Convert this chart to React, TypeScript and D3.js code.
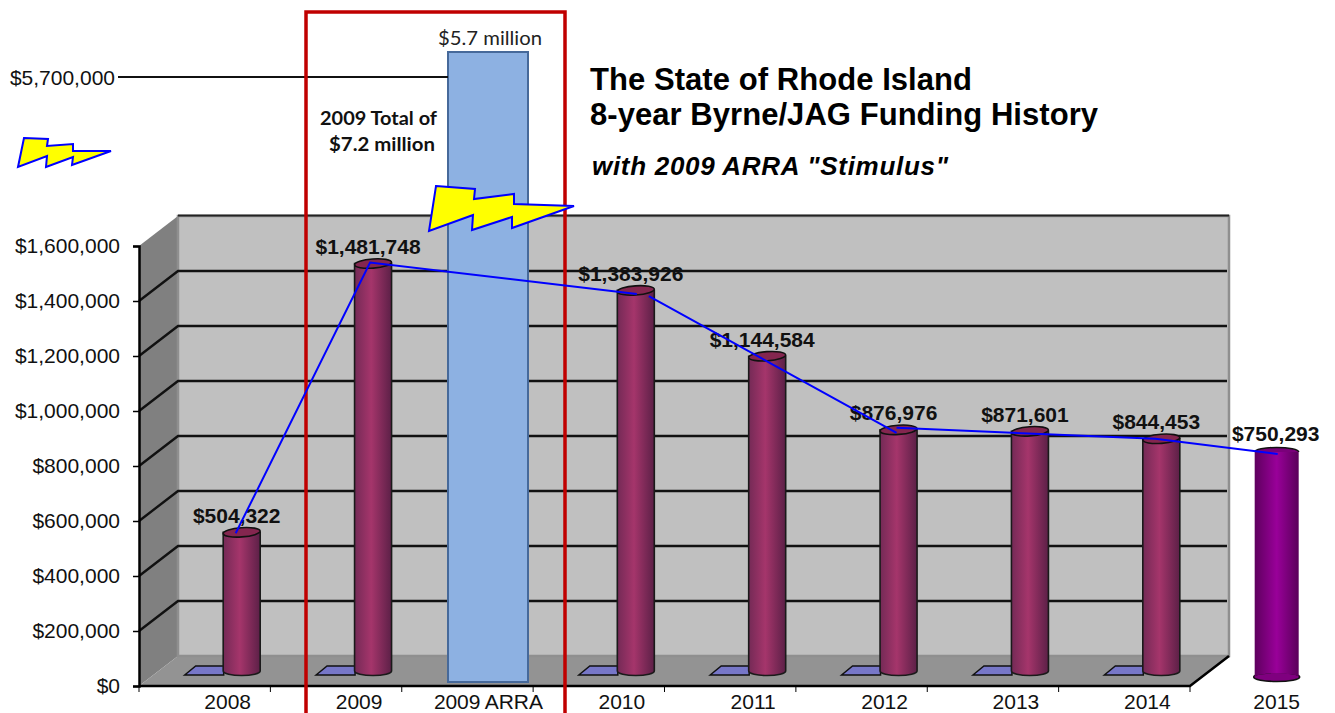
import * as d3 from "d3";
import React, { useEffect, useRef } from "react";

const categories = ["2008", "2009", "2009 ARRA", "2010", "2011", "2012", "2013", "2014", "2015"];
const funding = [504322, 1481748, 5700000, 1383926, 1144584, 876976, 871601, 844453, 750293];
const yTicks = [0, 200000, 400000, 600000, 800000, 1000000, 1200000, 1400000, 1600000];
const arraLabel = "$5.7 million";
const titleLines = ["The State of Rhode Island", "8-year Byrne/JAG Funding History"];
const subtitle = 'with 2009 ARRA "Stimulus"';
const totalNote = ["2009 Total of", "$7.2 million"];

const ARRA = "2009 ARRA";
const PASTED = "2015";
const sans = "'Liberation Sans', Arial, sans-serif";
const calibriLike = "Lato, 'Open Sans', sans-serif";

const W = 1335;
const H = 713;
const depthX = 39;
const depthY = 30;
const axisLeftX = 139;
const axisRightX = 1190;
const bottomY = 686;
const topY = 246;

// category scale keeps the 8 real bands, 2015 was pasted on in the band after them
const bandW = (axisRightX - axisLeftX) / 8;
const x = d3.scaleBand<string>().domain(categories).range([axisLeftX, axisRightX + bandW]);
const y = d3.scaleLinear().domain([0, 1600000]).range([bottomY, topY]);
// cylinders sit a little back on the floor
const barBase = 671;
const yBar = (v: number) => y(v) - (bottomY - barBase);
const yArra = d3.scaleLinear().domain([0, 5700000]).range([682, 52]);
const yPasted = d3.scaleLinear().domain([0, 750293]).range([677, 452]);

const center = (c: string) => (x(c) || 0) + x.bandwidth() / 2;
const barX = (c: string) => center(c) + (c === PASTED ? 21 : 37);
const labelX = (c: string) => center(c) + (c === PASTED ? 21 : c === ARRA ? 21 : 23);
const barTop = (c: string) => {
  const v = funding[categories.indexOf(c)];
  return c === PASTED ? yPasted(v) : yBar(v);
};

// hand drawn trend line in the original, it has small breaks at some bars
const lineRuns: [string, number, number][][] = [
  [["2008", -6, 1], ["2009", -3, -1], ["2010", 1, 3.5]],
  [["2010", 13, 5.6], ["2012", -2, 3]],
  [["2012", -2, -2], ["2014", -6, 0], ["2015", 1, 2]],
];

const bigBolt = [[436, 186], [475, 189], [474, 199], [514, 194], [514, 204], [574, 206], [512, 228], [512, 217], [472, 230], [473, 215], [429, 231]];
const smallBolt = [[24, 138], [48, 139], [47, 146], [73, 144], [73, 151], [111, 151], [72, 165], [73, 157], [46, 167], [47, 156], [18, 167]];

const pts = (p: number[][]) => p.map((d) => d.join(",")).join(" ");

const App: React.FC = () => {
  const axisRef = useRef<SVGGElement>(null);

  useEffect(() => {
    if (!axisRef.current) return;
    const g = d3.select(axisRef.current);
    g.selectAll("*").remove();
    g.attr("transform", `translate(${axisLeftX},0)`)
      .call(
        d3
          .axisLeft(y)
          .tickValues(yTicks)
          .tickFormat((d) => d3.format("$,")(d as number))
          .tickSize(6)
          .tickPadding(13) as any
      );
    g.select(".domain").attr("stroke", "#000").attr("stroke-width", 2.5);
    g.selectAll(".tick line").attr("stroke", "#000").attr("stroke-width", 1.5);
    g.selectAll("text").style("font-family", sans).style("font-size", "21px").attr("fill", "#111");
  }, []);

  const line = d3
    .line<[string, number, number]>()
    .x((d) => barX(d[0]) + d[1])
    .y((d) => barTop(d[0]) + d[2]);

  const grid = yTicks.slice(1, -1);
  const frontBars = categories.filter((c) => c !== ARRA && c !== PASTED);
  const xTickPositions = d3.range(9).map((i) => axisLeftX + i * bandW);

  return (
    <svg width={W} height={H} style={{ position: "absolute", left: 0, top: 0, display: "block", background: "#fff" }}>
      <defs>
        <linearGradient id="cyl" x1="0" x2="1" y1="0" y2="0">
          <stop offset="0" stopColor="#742a56" />
          <stop offset="0.45" stopColor="#a5356b" />
          <stop offset="1" stopColor="#5c2047" />
        </linearGradient>
        <linearGradient id="cylPasted" x1="0" x2="1" y1="0" y2="0">
          <stop offset="0" stopColor="#5e005e" />
          <stop offset="0.5" stopColor="#990099" />
          <stop offset="1" stopColor="#5a005a" />
        </linearGradient>
      </defs>

      {/* 3d box: side wall, floor, back wall */}
      <polygon
        points={pts([[axisLeftX, topY], [axisLeftX + depthX, topY - depthY], [axisLeftX + depthX, bottomY - depthY], [axisLeftX, bottomY]])}
        fill="#808080"
      />
      <polygon
        points={pts([[axisLeftX, bottomY], [axisLeftX + depthX, bottomY - depthY], [axisRightX + depthX, bottomY - depthY], [axisRightX, bottomY]])}
        fill="#939393"
      />
      <rect x={axisLeftX + depthX} y={topY - depthY} width={axisRightX - axisLeftX} height={bottomY - topY} fill="#c0c0c0" stroke="#8f8f8f" strokeWidth={2.5} />
      <line x1={axisLeftX + depthX} x2={axisRightX + depthX} y1={topY - depthY - 0.5} y2={topY - depthY - 0.5} stroke="#222" strokeWidth={2} />

      {grid.map((v) => (
        <polyline
          key={v}
          points={pts([[axisLeftX, y(v)], [axisLeftX + depthX, y(v) - depthY], [axisRightX + depthX - 2, y(v) - depthY]])}
          fill="none"
          stroke="#111"
          strokeWidth={2.4}
        />
      ))}

      {/* floor front edge and ticks */}
      <polyline
        points={pts([[axisLeftX, bottomY], [axisRightX, bottomY], [axisRightX + depthX, bottomY - depthY]])}
        fill="none"
        stroke="#000"
        strokeWidth={2.5}
      />
      {xTickPositions.map((t) => (
        <line key={t} x1={t} x2={t} y1={bottomY} y2={bottomY + 6} stroke="#000" strokeWidth={1} />
      ))}
      <g ref={axisRef} />

      {/* zero height second series, shows as a flat patch on the floor */}
      {frontBars.map((c) => {
        const cx = barX(c);
        return (
          <polygon
            key={c}
            points={pts([[cx - 57, 675], [cx - 46, 666], [cx - 18, 666], [cx - 18, 675]])}
            fill="#7777c8"
            stroke="#111"
            strokeWidth={1.5}
          />
        );
      })}

      {/* cylinders */}
      {frontBars.map((c) => {
        const cx = barX(c);
        const t = barTop(c);
        const r = 18.5;
        const body = `M${cx - r},${t} L${cx - r},${barBase} A${r},4.5 0 0 0 ${cx + r},${barBase} L${cx + r},${t} Z`;
        return (
          <g key={c}>
            <path d={body} fill="url(#cyl)" stroke="#1a1a1a" strokeWidth={1.6} />
            <ellipse cx={cx} cy={t} rx={r} ry={4.6} transform={`rotate(-4 ${cx} ${t})`} fill="#84264f" stroke="#111" strokeWidth={1.6} />
          </g>
        );
      })}

      {/* ARRA bar */}
      <rect
        x={448}
        y={yArra(5700000)}
        width={80}
        height={yArra(0) - yArra(5700000)}
        fill="#8db1e2"
        stroke="#46699a"
        strokeWidth={2}
      />
      <text x={490} y={45} textAnchor="middle" textLength={104} lengthAdjust="spacingAndGlyphs" style={{ fontFamily: calibriLike, fontSize: 19 }} fill="#222">
        {arraLabel}
      </text>

      {/* pasted 2015 cylinder */}
      {(() => {
        const cx = barX(PASTED);
        const t = barTop(PASTED);
        const b = yPasted(0);
        return (
          <g>
            <path d={`M${cx - 22},${t} A22,4.5 0 0 1 ${cx + 22},${t}`} fill="#7a007a" stroke="#111" strokeWidth={1.5} />
            <ellipse cx={cx} cy={b} rx={23} ry={4.5} fill="#7f007f" stroke="#111" strokeWidth={1.6} />
            <path d={`M${cx - 22},${t} L${cx - 22},${b} A22,3.5 0 0 1 ${cx + 22},${b} L${cx + 22},${t} Z`} fill="url(#cylPasted)" />
          </g>
        );
      })()}

      {/* 5.7m break-out tick */}
      <text x={115} y={85} textAnchor="end" style={{ fontFamily: sans, fontSize: 21 }} fill="#111">
        {d3.format("$,")(funding[2])}
      </text>
      <line x1={118} x2={448} y1={77} y2={77} stroke="#111" strokeWidth={2} />

      {/* category labels */}
      {categories.map((c) => (
        <text
          key={c}
          x={labelX(c)}
          y={709}
          textAnchor="middle"
          textLength={c === ARRA ? 109 : undefined}
          style={{ fontFamily: sans, fontSize: 21 }}
          fill="#111"
        >
          {c}
        </text>
      ))}

      {/* value labels */}
      {categories
        .filter((c) => c !== ARRA)
        .map((c) => (
          <text
            key={c}
            x={barX(c) - (c === PASTED ? 1 : 5)}
            y={barTop(c) - (c === PASTED ? 11 : 9.5)}
            textAnchor="middle"
            style={{ fontFamily: sans, fontSize: 21, fontWeight: 700 }}
            fill="#111"
          >
            {d3.format("$,")(funding[categories.indexOf(c)])}
          </text>
        ))}

      {/* red highlight round 2009 */}
      <polyline points={pts([[306, H + 4], [306, 12], [565, 12], [565, H + 4]])} fill="none" stroke="#c00000" strokeWidth={3.5} />

      {/* trend line */}
      {lineRuns.map((run, i) => (
        <path key={i} d={line(run) || ""} fill="none" stroke="#0000ff" strokeWidth={2} />
      ))}

      {/* bolts */}
      <polygon points={pts(smallBolt)} fill="#ffff00" stroke="#0000ff" strokeWidth={2} />
      <polygon points={pts(bigBolt)} fill="#ffff00" stroke="#0000ff" strokeWidth={2} />

      {/* titles */}
      <text x={590} y={90} textLength={382} lengthAdjust="spacing" style={{ fontFamily: sans, fontSize: 31, fontWeight: 700 }} fill="#000">
        {titleLines[0]}
      </text>
      <text x={590} y={125} textLength={508} lengthAdjust="spacing" style={{ fontFamily: sans, fontSize: 31, fontWeight: 700 }} fill="#000">
        {titleLines[1]}
      </text>
      <text x={592} y={175} textLength={356} lengthAdjust="spacing" style={{ fontFamily: sans, fontSize: 26, fontWeight: 700, fontStyle: "italic" }} fill="#000">
        {subtitle}
      </text>

      {/* note */}
      <text x={320} y={125} textLength={117} lengthAdjust="spacingAndGlyphs" style={{ fontFamily: calibriLike, fontSize: 19, fontWeight: 700 }} fill="#111">
        {totalNote[0]}
      </text>
      <text x={329} y={151} textLength={106} lengthAdjust="spacingAndGlyphs" style={{ fontFamily: calibriLike, fontSize: 19, fontWeight: 700 }} fill="#111">
        {totalNote[1]}
      </text>
    </svg>
  );
};

export default App;
